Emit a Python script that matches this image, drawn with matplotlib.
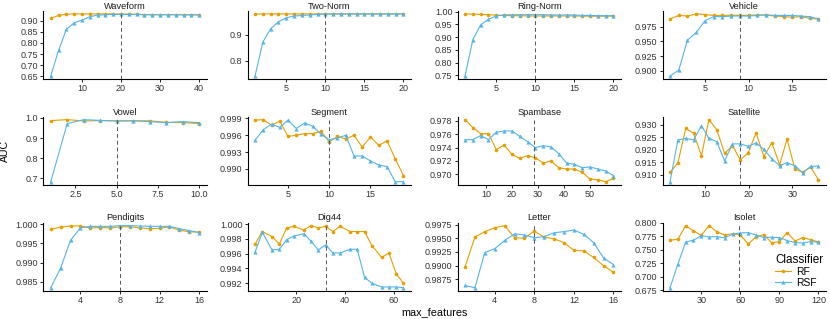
import matplotlib
matplotlib.use("Agg")
import matplotlib.pyplot as plt
from matplotlib.lines import Line2D

plt.rcParams['font.family'] = ['Liberation Sans', 'DejaVu Sans']

RF_COL = '#E69F00'
RSF_COL = '#56B4E9'

names = ['Waveform', 'Two-Norm', 'Ring-Norm', 'Vehicle',
         'Vowel', 'Segment', 'Spambase', 'Satellite',
         'Pendigits', 'Dig44', 'Letter', 'Isolet']

# --- x values (max_features) ---
x_waveform = [2, 4, 6, 8, 10, 12, 14, 16, 18, 20, 22, 24, 26, 28, 30, 32, 34, 36, 38, 40]
x_twonorm = list(range(1, 21))
x_ringnorm = list(range(1, 21))
x_vehicle = list(range(1, 19))
x_vowel = list(range(1, 11))
x_segment = list(range(1, 20))
x_spambase = [2, 5, 8, 11, 14, 17, 20, 23, 26, 29, 32, 35, 38, 41, 44, 47, 50, 53, 56, 59]
x_satellite = [2.0, 3.8, 5.6, 7.4, 9.2, 10.9, 12.7, 14.5, 16.3, 18.1,
               19.9, 21.7, 23.5, 25.3, 27.1, 28.8, 30.6, 32.4, 34.2, 36.0]
x_pendigits = list(range(1, 17))
x_dig44 = [3, 6, 10, 13, 16, 19, 23, 26, 29, 32, 35, 38, 42, 45, 48, 51, 55, 58, 61, 64]
x_letter = list(range(1, 17))
x_isolet = [6, 12, 18, 24, 30, 36, 42, 48, 54, 60, 66, 72, 78, 84, 90, 96, 102, 108, 114, 120]

# --- AUC, random forest ---
rf_waveform = [0.911, 0.924, 0.930, 0.931, 0.931, 0.931, 0.931, 0.931, 0.931, 0.930,
               0.930, 0.929, 0.927, 0.927, 0.927, 0.927, 0.927, 0.927, 0.927, 0.927]
rf_twonorm = [0.979, 0.980, 0.980, 0.980, 0.980, 0.980, 0.980, 0.980, 0.980, 0.980,
              0.980, 0.980, 0.980, 0.980, 0.980, 0.980, 0.980, 0.980, 0.980, 0.980]
rf_ringnorm = [0.991, 0.990, 0.989, 0.988, 0.986, 0.985, 0.984, 0.984, 0.983, 0.983,
               0.983, 0.983, 0.983, 0.983, 0.983, 0.982, 0.982, 0.982, 0.982, 0.982]
rf_vehicle = [0.988, 0.994, 0.993, 0.9966, 0.9955, 0.994, 0.994, 0.9945, 0.994,
              0.994, 0.995, 0.9945, 0.993, 0.992, 0.991, 0.992, 0.989, 0.988]
rf_vowel = [0.987, 0.992, 0.985, 0.987, 0.986, 0.986, 0.986, 0.978, 0.977, 0.972]
rf_segment = [0.9987, 0.9988, 0.9978, 0.9985, 0.9958, 0.9960, 0.9963, 0.9963, 0.9967, 0.9948,
              0.9958, 0.9953, 0.9960, 0.9939, 0.9957, 0.9942, 0.9950, 0.9918, 0.9888]
rf_spambase = [0.9782, 0.9770, 0.9761, 0.9761, 0.9737, 0.9744, 0.9730, 0.9724, 0.9728, 0.9725,
               0.9717, 0.9720, 0.9710, 0.9708, 0.9708, 0.9703, 0.9693, 0.9692, 0.9689, 0.9694]
rf_satellite = [0.9109, 0.9147, 0.9285, 0.9265, 0.9176, 0.9320, 0.9280, 0.9185, 0.9216, 0.9159,
                0.9187, 0.9267, 0.9172, 0.9228, 0.9140, 0.9242, 0.9123, 0.9109, 0.9130, 0.9080]
rf_pendigits = [0.9986, 0.9992, 0.9995, 0.9995, 0.9990, 0.9991, 0.9990, 0.9993, 0.9993, 0.9990,
                0.9988, 0.9989, 0.9993, 0.9984, 0.9980, 0.9979]
rf_dig44 = [0.9973, 0.9990, 0.9983, 0.9973, 0.9995, 0.9997, 0.9992, 0.9998, 0.9995, 0.9997,
            0.9990, 0.9997, 0.9990, 0.9990, 0.9990, 0.9971, 0.9955, 0.9961, 0.9933, 0.9920]
rf_letter = [0.9898, 0.9952, 0.9962, 0.9969, 0.9973, 0.9951, 0.9950, 0.9963, 0.9952, 0.9949,
             0.9942, 0.9928, 0.9927, 0.9915, 0.9900, 0.9888]
rf_isolet = [0.768, 0.7697, 0.795, 0.7852, 0.777, 0.795, 0.7833, 0.7777, 0.780, 0.7777,
             0.761, 0.774, 0.7783, 0.7635, 0.7653, 0.782, 0.7665, 0.7728, 0.769, 0.7647]

# --- AUC, random subspace forest ---
rsf_waveform = [0.651, 0.766, 0.861, 0.891, 0.903, 0.918, 0.926, 0.927, 0.929, 0.929,
                0.929, 0.929, 0.928, 0.928, 0.928, 0.928, 0.928, 0.927, 0.927, 0.927]
rsf_twonorm = [0.742, 0.872, 0.923, 0.950, 0.965, 0.972, 0.974, 0.976, 0.978, 0.9795,
               0.980, 0.980, 0.980, 0.980, 0.980, 0.980, 0.980, 0.980, 0.980, 0.980]
rsf_ringnorm = [0.747, 0.890, 0.948, 0.970, 0.983, 0.987, 0.988, 0.988, 0.988, 0.988,
                0.988, 0.987, 0.987, 0.987, 0.987, 0.985, 0.985, 0.984, 0.984, 0.984]
rsf_vehicle = [0.891, 0.901, 0.952, 0.965, 0.985, 0.992, 0.992, 0.993, 0.993, 0.993,
               0.994, 0.995, 0.994, 0.994, 0.994, 0.993, 0.992, 0.988]
rsf_vowel = [0.683, 0.972, 0.992, 0.988, 0.985, 0.986, 0.982, 0.977, 0.982, 0.977]
rsf_segment = [0.9951, 0.9970, 0.9980, 0.9974, 0.9987, 0.9972, 0.9982, 0.9976, 0.9962, 0.9952,
               0.9955, 0.9960, 0.9923, 0.9923, 0.9914, 0.9907, 0.9904, 0.9877, 0.9877]
rsf_spambase = [0.9752, 0.9752, 0.9758, 0.9752, 0.9763, 0.9765, 0.9765, 0.9757, 0.9749, 0.9740,
                0.9743, 0.9741, 0.9731, 0.9717, 0.9715, 0.9710, 0.9711, 0.9708, 0.9705, 0.9698]
rsf_satellite = [0.9072, 0.9239, 0.9245, 0.9239, 0.9296, 0.9245, 0.9232, 0.9155, 0.9223, 0.9223,
                 0.9213, 0.9227, 0.9201, 0.9164, 0.9136, 0.9148, 0.9136, 0.9108, 0.9133, 0.9135]
rsf_pendigits = [0.9835, 0.9886, 0.9958, 0.9990, 0.9994, 0.9994, 0.9994, 0.9996, 0.9996, 0.9995,
                 0.9994, 0.9994, 0.9994, 0.9988, 0.9983, 0.9978]
rsf_dig44 = [0.9962, 0.9989, 0.9965, 0.9966, 0.9979, 0.9984, 0.9987, 0.9977, 0.9965, 0.9972,
             0.9961, 0.9961, 0.9966, 0.9966, 0.9928, 0.9920, 0.9915, 0.9915, 0.9915, 0.9914]
rsf_letter = [0.9864, 0.9860, 0.9924, 0.9931, 0.9946, 0.9958, 0.9956, 0.9951, 0.9953, 0.9960,
              0.9962, 0.9965, 0.9957, 0.9942, 0.9914, 0.9902]
rsf_isolet = [0.680, 0.7233, 0.7647, 0.7678, 0.7765, 0.774, 0.7746, 0.7722, 0.779, 0.7814,
              0.782, 0.7777, 0.7728, 0.7734, 0.7728, 0.7672, 0.7635, 0.7628, 0.7653, 0.764]

# default max_features marker (dashed line)
vlines = [20, 10, 10, 9, 5, 10, 28.5, 18, 8, 32, 8, 59]

xtick_labels = [['10', '20', '30', '40'], ['5', '10', '15', '20'], ['5', '10', '15', '20'],
                ['5', '10', '15'], ['2.5', '5.0', '7.5', '10.0'], ['5', '10', '15'],
                ['10', '20', '30', '40', '50'], ['10', '20', '30'], ['4', '8', '12', '16'],
                ['20', '40', '60'], ['4', '8', '12', '16'], ['30', '60', '90', '120']]
ytick_labels = [['0.65', '0.70', '0.75', '0.80', '0.85', '0.90'],
                ['0.8', '0.9'],
                ['0.75', '0.80', '0.85', '0.90', '0.95', '1.00'],
                ['0.900', '0.925', '0.950', '0.975'],
                ['0.7', '0.8', '0.9', '1.0'],
                ['0.990', '0.993', '0.996', '0.999'],
                ['0.970', '0.972', '0.974', '0.976', '0.978'],
                ['0.910', '0.915', '0.920', '0.925', '0.930'],
                ['0.985', '0.990', '0.995', '1.000'],
                ['0.992', '0.994', '0.996', '0.998', '1.000'],
                ['0.9875', '0.9900', '0.9925', '0.9950', '0.9975'],
                ['0.675', '0.700', '0.725', '0.750', '0.775', '0.800']]

xs = [x_waveform, x_twonorm, x_ringnorm, x_vehicle, x_vowel, x_segment,
      x_spambase, x_satellite, x_pendigits, x_dig44, x_letter, x_isolet]
rfs = [rf_waveform, rf_twonorm, rf_ringnorm, rf_vehicle, rf_vowel, rf_segment,
       rf_spambase, rf_satellite, rf_pendigits, rf_dig44, rf_letter, rf_isolet]
rsfs = [rsf_waveform, rsf_twonorm, rsf_ringnorm, rsf_vehicle, rsf_vowel, rsf_segment,
        rsf_spambase, rsf_satellite, rsf_pendigits, rsf_dig44, rsf_letter, rsf_isolet]

W, H = 830, 319
fig = plt.figure(figsize=(W / 100, H / 100), dpi=100)

col_left = [43.3, 247.6, 457.6, 662.6]
row_top = [10.8, 116.5, 222.5]
pw, ph = 163.3, 68.3

for i, name in enumerate(names):
    r, c = divmod(i, 4)
    ax = fig.add_axes([col_left[c] / W, 1 - (row_top[r] + ph) / H, pw / W, ph / H])
    ax.plot(xs[i], rfs[i], color=RF_COL, lw=0.8, marker='o', ms=2.6, mew=0)
    ax.plot(xs[i], rsfs[i], color=RSF_COL, lw=0.8, marker='^', ms=3.0, mew=0)
    ax.axvline(vlines[i], color='#555555', lw=0.7, ls=(0, (4, 3)))
    ax.set_xticks([float(t) for t in xtick_labels[i]], xtick_labels[i])
    ax.set_yticks([float(t) for t in ytick_labels[i]], ytick_labels[i])
    ax.set_title(name, fontsize=6.7, pad=1.0, color='#1a1a1a')
    for s in ['top', 'right']:
        ax.spines[s].set_visible(False)
    for s in ['left', 'bottom']:
        ax.spines[s].set_linewidth(0.8)
    ax.tick_params(labelsize=6.5, labelcolor='#333333', length=2.2, width=0.6, pad=1.5)

fig.text(5 / W, 1 - 151 / H, 'AUC', rotation=90, ha='center', va='center', fontsize=7.6)
fig.text(434.5 / W, 1 - 312 / H, 'max_features', ha='center', va='center', fontsize=7.8)

handles = [Line2D([], [], color=RF_COL, lw=0.8, marker='o', ms=2.6, mew=0),
           Line2D([], [], color=RSF_COL, lw=0.8, marker='^', ms=3.0, mew=0)]
leg = fig.legend(handles, ['RF', 'RSF'], title='Classifier', loc='upper left',
                 bbox_to_anchor=(769 / W, 1 - 247.5 / H), frameon=False, fontsize=7.4,
                 title_fontsize=8.4, handlelength=1.5, handletextpad=0.5,
                 labelspacing=0.05, borderpad=0.1)
leg._legend_box.align = 'left'
leg._legend_box.sep = 1

fig.savefig('out.png', dpi=100)
